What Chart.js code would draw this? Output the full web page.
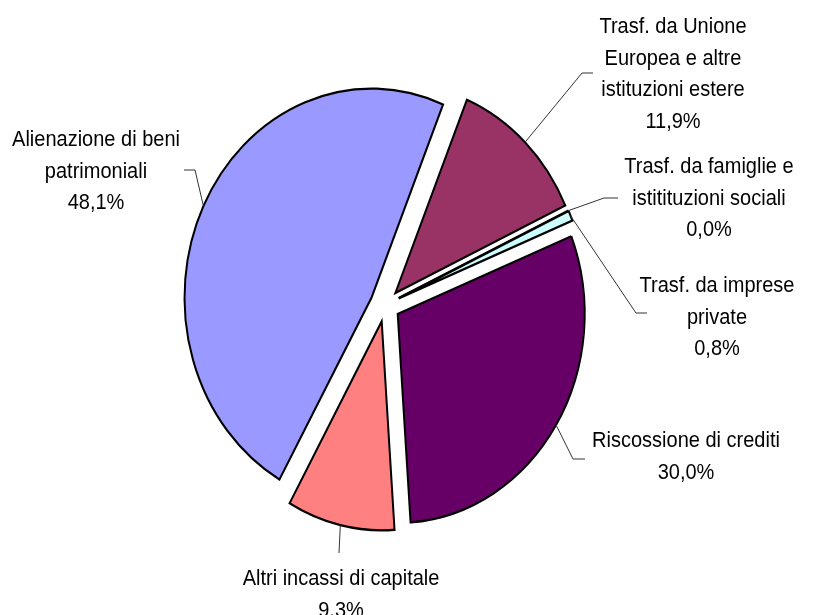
<!DOCTYPE html>
<html>
<head>
<meta charset="utf-8">
<script src="https://cdn.jsdelivr.net/npm/chart.js@4.4.1/dist/chart.umd.min.js"></script>
<style>
  html, body { margin: 0; padding: 0; background: #fff; }
  #wrap { width: 814px; height: 615px; }
</style>
</head>
<body>
<div id="wrap"><canvas id="pieChart" width="814" height="615"></canvas></div>
<script>
const categories = [
    ['Alienazione di beni', 'patrimoniali'],
    ['Trasf. da Unione', 'Europea e altre', 'istituzioni estere'],
    ['Trasf. da famiglie e', 'istitituzioni sociali'],
    ['Trasf. da imprese', 'private'],
    ['Riscossione di crediti'],
    ['Altri incassi di capitale']
];
const shares = [48.1, 11.9, 0.0, 0.8, 30.0, 9.3];
const sliceColors = ['#9999FF', '#993366', '#FFFFCC', '#CCFFFF', '#660066', '#FF8080'];

// label placement: text centre x, first baseline y, leader elbow and leader end
const labelLayout = [
    { x: 96,  y: 146, elbow: [195, 170], end: [184, 170] },
    { x: 673, y: 33,  elbow: [582, 73],  end: [593, 73] },
    { x: 709, y: 173, elbow: [604, 198], end: [618, 198] },
    { x: 717, y: 292, elbow: [636, 313], end: [647, 313] },
    { x: 686, y: 447, elbow: [573, 459], end: [585, 459] },
    { x: 341, y: 585, elbow: [339, 553], end: [339, 553] }
];

const stretch = 209 / 187;   // the picture is taller than wide
const explode = 15;          // every slice pulled out a bit
const lineGap = 31.5;

function pctText(v) {
    return v.toFixed(1).replace('.', ',') + '%';
}

const explodedPie = {
    id: 'explodedPie',
    beforeDatasetDraw(chart, args) {
        const ctx = chart.ctx;
        const arcs = args.meta.data;
        if (!arcs.length) return;
        const cx = arcs[0].x, cy = arcs[0].y;
        ctx.save();
        ctx.translate(cx, cy);
        ctx.scale(1, stretch);
        ctx.translate(-cx, -cy);
        arcs.forEach(arc => {
            const mid = (arc.startAngle + arc.endAngle) / 2;
            ctx.save();
            ctx.translate(Math.cos(mid) * explode, Math.sin(mid) * explode);
            if (arc.circumference === 0) {
                // empty slice: Excel still shows its edge
                ctx.beginPath();
                ctx.moveTo(arc.x, arc.y);
                ctx.lineTo(arc.x + Math.cos(mid) * arc.outerRadius, arc.y + Math.sin(mid) * arc.outerRadius);
                ctx.lineWidth = 2;
                ctx.strokeStyle = '#000';
                ctx.stroke();
            } else {
                arc.draw(ctx);
            }
            ctx.restore();
        });
        ctx.restore();
        return false;
    },
    afterDraw(chart) {
        const ctx = chart.ctx;
        const arcs = chart.getDatasetMeta(0).data;
        ctx.save();
        arcs.forEach((arc, i) => {
            const L = labelLayout[i];
            const mid = (arc.startAngle + arc.endAngle) / 2;
            const r = arc.outerRadius + explode;
            const sx = arc.x + Math.cos(mid) * r;
            const sy = arc.y + Math.sin(mid) * r * stretch;

            ctx.beginPath();
            ctx.moveTo(sx, sy);
            ctx.lineTo(L.elbow[0], L.elbow[1]);
            ctx.lineTo(L.end[0], L.end[1]);
            ctx.lineWidth = 1;
            ctx.strokeStyle = '#333';
            ctx.stroke();

            const lines = categories[i].concat([pctText(shares[i])]);
            ctx.fillStyle = '#000';
            ctx.font = '20px "Liberation Sans", Arial, sans-serif';
            ctx.textAlign = 'center';
            ctx.textBaseline = 'alphabetic';
            lines.forEach((t, j) => {
                ctx.save();
                ctx.translate(L.x, L.y + j * lineGap);
                ctx.scale(1, stretch);
                ctx.fillText(t, 0, 0);
                ctx.restore();
            });
        });
        ctx.restore();
    }
};

const ctx = document.getElementById('pieChart').getContext('2d');
const pieChart = new Chart(ctx, {
    type: 'pie',
    data: {
        labels: categories,
        datasets: [{
            data: shares,
            backgroundColor: sliceColors,
            borderColor: '#000',
            borderWidth: 2,
            borderJoinStyle: 'miter'
        }]
    },
    options: {
        responsive: false,
        animation: false,
        events: [],
        rotation: 209.5,
        radius: 187,
        layout: {
            padding: { left: 0, right: 44, top: 0, bottom: 5 }
        },
        plugins: {
            legend: { display: false },
            tooltip: { enabled: false }
        }
    },
    plugins: [explodedPie]
});
</script>
</body>
</html>
